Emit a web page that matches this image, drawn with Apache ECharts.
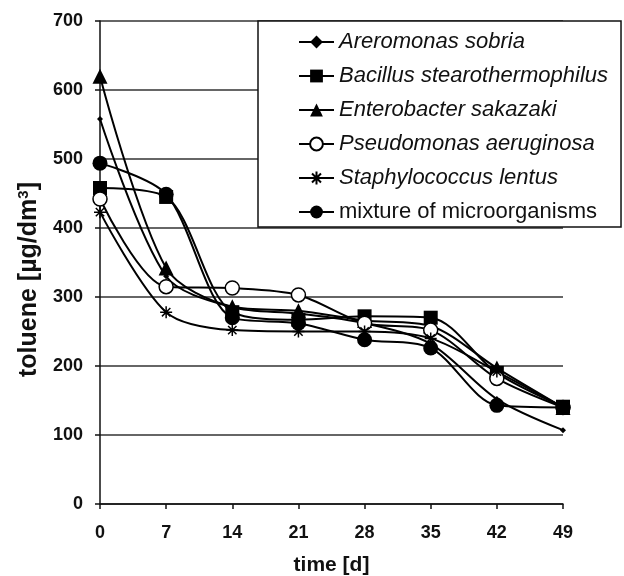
<!DOCTYPE html>
<html>
<head>
<meta charset="utf-8">
<script src="https://cdn.jsdelivr.net/npm/echarts@6/dist/echarts.min.js"></script>
<style>
html,body{margin:0;padding:0;background:#fff;}
#c{width:624px;height:576px;}
</style>
</head>
<body>
<div id="c"></div>
<script>
var days = [0, 7, 14, 21, 28, 35, 42, 49];
var seriesNames = ['Areromonas sobria', 'Bacillus stearothermophilus', 'Enterobacter sakazaki', 'Pseudomonas aeruginosa', 'Staphylococcus lentus', 'mixture of microorganisms'];
var areromonas = [558, 330, 285, 276, 262, 232, 152, 107];
var bacillus = [458, 445, 278, 267, 272, 270, 190, 141];
var enterobacter = [620, 342, 286, 280, 266, 258, 197, 140];
var pseudomonas = [442, 315, 313, 303, 262, 252, 182, 140];
var staphylococcus = [423, 278, 252, 250, 250, 240, 192, 140];
var mixture = [494, 449, 270, 262, 238, 226, 143, 140];
var yTicks = [0, 100, 200, 300, 400, 500, 600, 700];

function pairs(vals){ return days.map(function(d,i){ return [d, vals[i]]; }); }

var asterisk = 'path://M0,5L10,5M5,0L5,10M1.5,1.5L8.5,8.5M8.5,1.5L1.5,8.5';
var base = {type:'line', smooth:0.3, lineStyle:{color:'#000', width:2}, z:3};
function mk(name, vals, extra){ return Object.assign({}, base, {name:name, data:pairs(vals)}, extra); }

var chart = echarts.init(document.getElementById('c'));
chart.setOption({
  animation:false,
  backgroundColor:'#fff',
  textStyle:{fontFamily:'Liberation Sans, Arial, sans-serif'},
  grid:{left:100, right:61, top:21, bottom:72, containLabel:false, outerBoundsMode:'none'},
  xAxis:{
    type:'value', min:0, max:49, interval:7,
    name:'time [d]', nameLocation:'middle', nameGap:51,
    nameTextStyle:{fontSize:21, fontWeight:'bold', color:'#111'},
    axisLine:{show:true, lineStyle:{color:'#111', width:1.5}},
    axisTick:{show:true, length:5, lineStyle:{color:'#111', width:1.5}},
    axisLabel:{fontSize:18, fontWeight:'bold', color:'#111', margin:20},
    splitLine:{show:false}
  },
  yAxis:{
    type:'value', min:0, max:700, interval:100,
    name:'{a|toluene [µg/dm}{s|3}{a|]}', nameLocation:'middle', nameGap:53,
    nameTextStyle:{padding:[0,34,0,0], rich:{
      a:{fontSize:25, fontWeight:'bold', color:'#111'},
      s:{fontSize:15, fontWeight:'bold', color:'#111', verticalAlign:'top', padding:[0,0,11,0]}
    }},
    axisLine:{show:true, lineStyle:{color:'#111', width:1.5}},
    axisTick:{show:true, length:5, lineStyle:{color:'#111', width:1.5}},
    axisLabel:{fontSize:18, fontWeight:'bold', color:'#111', margin:17},
    splitLine:{show:true, lineStyle:{color:'#333', width:1.5}}
  },
  legend:{
    orient:'vertical', left:258, top:21,
    backgroundColor:'#fff', borderColor:'#111', borderWidth:1.5,
    padding:[10, 13, 4, 40],
    itemWidth:35, itemHeight:16, itemGap:12,
    textStyle:{fontSize:22, lineHeight:22, color:'#111', fontStyle:'italic'},
    data:[
      {name:seriesNames[0]},
      {name:seriesNames[1]},
      {name:seriesNames[2]},
      {name:seriesNames[3]},
      {name:seriesNames[4]},
      {name:seriesNames[5], textStyle:{fontStyle:'normal'}}
    ]
  },
  series:[
    mk(seriesNames[0], areromonas, {symbol:'diamond', symbolSize:6, itemStyle:{color:'#000'}}),
    mk(seriesNames[1], bacillus, {symbol:'rect', symbolSize:14, itemStyle:{color:'#000'}}),
    mk(seriesNames[2], enterobacter, {symbol:'triangle', symbolSize:15, itemStyle:{color:'#000'}}),
    mk(seriesNames[3], pseudomonas, {symbol:'circle', symbolSize:14, itemStyle:{color:'#fff', borderColor:'#000', borderWidth:1.5}}),
    mk(seriesNames[4], staphylococcus, {symbol:asterisk, symbolSize:12, itemStyle:{color:'rgba(0,0,0,0)', borderColor:'#000', borderWidth:1.5}}),
    mk(seriesNames[5], mixture, {symbol:'circle', symbolSize:15, itemStyle:{color:'#000'}})
  ]
});
</script>
</body>
</html>
